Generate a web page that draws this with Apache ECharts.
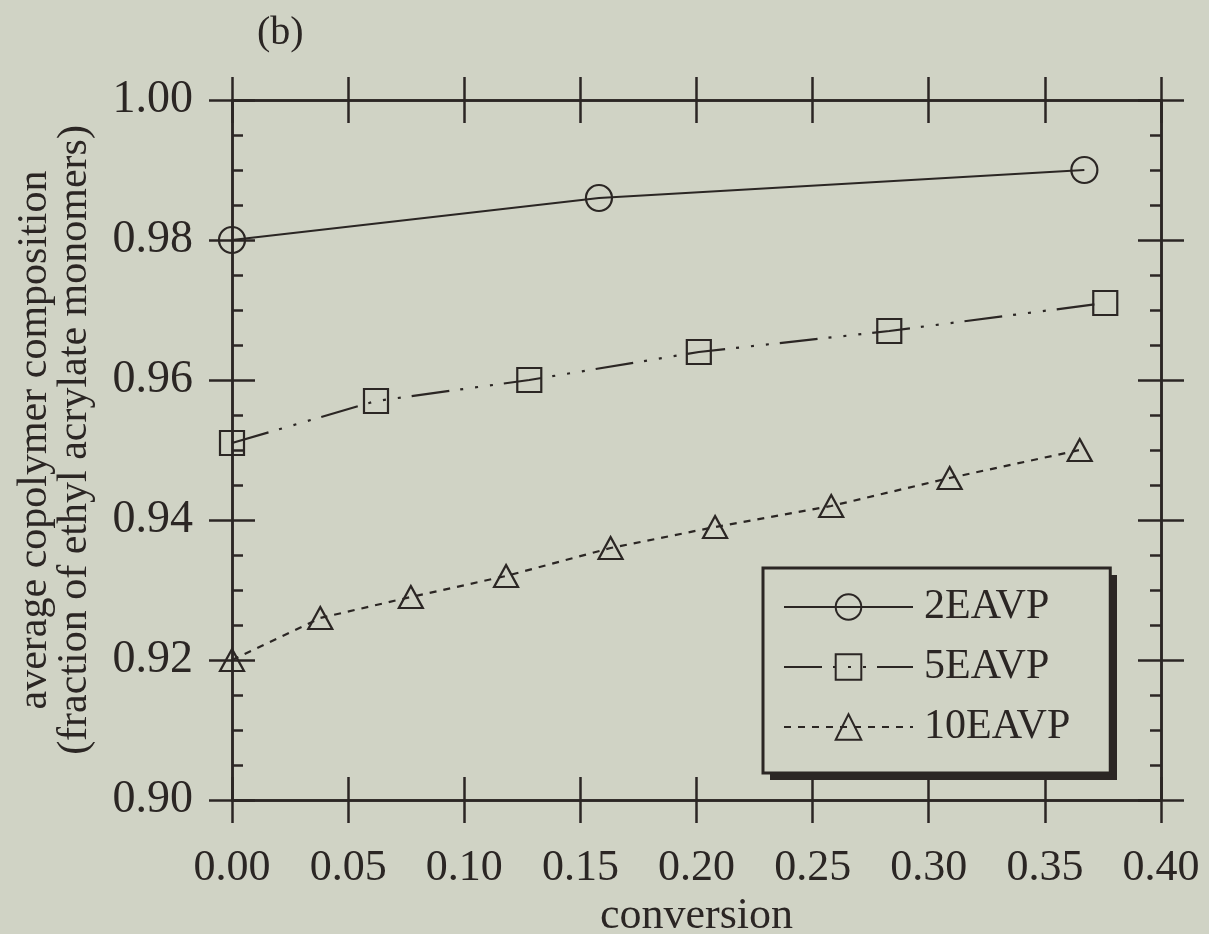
<!DOCTYPE html>
<html>
<head>
<meta charset="utf-8">
<style>
  html, body { margin: 0; padding: 0; background: #d0d3c5; }
  #chart { width: 1209px; height: 934px; }
</style>
<script src="https://cdn.jsdelivr.net/npm/echarts@6/dist/echarts.min.js"></script>
</head>
<body>
<div id="chart"></div>
<script>
// ---- data ----
const seriesNames = ['2EAVP', '5EAVP', '10EAVP'];
const conversion2 = [0.000, 0.158, 0.367];
const composition2 = [0.980, 0.986, 0.990];
const conversion5 = [0.000, 0.062, 0.128, 0.201, 0.283, 0.376];
const composition5 = [0.951, 0.957, 0.960, 0.964, 0.967, 0.971];
const conversion10 = [0.000, 0.038, 0.077, 0.118, 0.163, 0.208, 0.258, 0.309, 0.365];
const composition10 = [0.920, 0.926, 0.929, 0.932, 0.936, 0.939, 0.942, 0.946, 0.950];
const xTickLabels = ['0.00', '0.05', '0.10', '0.15', '0.20', '0.25', '0.30', '0.35', '0.40'];
const yTickLabels = ['0.90', '0.92', '0.94', '0.96', '0.98', '1.00'];

// ---- style ----
const ink = '#2b2624';
const bg = '#d0d3c5';
const serif = "'Liberation Serif', 'DejaVu Serif', serif";

function pairs(xs, ys) { return xs.map((x, i) => [x, ys[i]]); }

function xAxisDef(position, inside, withLabel) {
  return {
    type: 'value', min: 0, max: 0.4, interval: 0.05, position: position,
    axisLine: { show: true, onZero: false, lineStyle: { color: ink, width: 2.5 } },
    axisTick: { show: true, inside: inside, length: 23, lineStyle: { color: ink, width: 2.5 } },
    minorTick: { show: false },
    splitLine: { show: false },
    axisLabel: withLabel ? {
      show: true, margin: 46, fontFamily: serif, fontSize: 44, lineHeight: 44, color: ink,
      formatter: v => xTickLabels[Math.round(v / 0.05)]
    } : { show: false },
    name: withLabel ? 'conversion' : '',
    nameLocation: 'middle', nameGap: 92,
    nameTextStyle: { fontFamily: serif, fontSize: 44, lineHeight: 44, color: ink }
  };
}

function yAxisDef(position, inside, withLabel) {
  return {
    type: 'value', min: 0.9, max: 1.0, interval: 0.02, position: position,
    axisLine: { show: true, onZero: false, lineStyle: { color: ink, width: 2.5 } },
    axisTick: { show: true, inside: inside, length: 23, lineStyle: { color: ink, width: 2.5 } },
    minorTick: { show: inside, splitNumber: 4, length: 11, lineStyle: { color: ink, width: 2.5 } },
    splitLine: { show: false },
    axisLabel: withLabel ? {
      show: true, margin: 39, fontFamily: serif, fontSize: 46, color: ink,
      formatter: v => yTickLabels[Math.round((v - 0.9) / 0.02)]
    } : { show: false },
    name: withLabel ? 'average copolymer composition\n(fraction of ethyl acrylate monomers)' : '',
    nameLocation: 'middle', nameGap: 137,
    nameTextStyle: { fontFamily: serif, fontSize: 42, lineHeight: 40, color: ink, padding: [0, 0, 0, 20] }
  };
}

const chart = echarts.init(document.getElementById('chart'), null, { renderer: 'canvas' });
chart.setOption({
  backgroundColor: bg,
  animation: false,
  grid: { left: 232, right: 48, top: 100, bottom: 134, containLabel: false, outerBoundsMode: 'none' },
  title: {
    text: '(b)', left: 252, top: 8,
    textStyle: { fontFamily: serif, fontSize: 40, fontWeight: 'normal', color: ink }
  },
  graphic: [
    { type: 'rect', left: 770, top: 575, shape: { width: 347, height: 205 }, style: { fill: ink }, z: 1 }
  ],
  xAxis: [
    xAxisDef('bottom', false, true),
    xAxisDef('bottom', true, false),
    xAxisDef('top', false, false),
    xAxisDef('top', true, false)
  ],
  yAxis: [
    yAxisDef('left', false, true),
    yAxisDef('left', true, false),
    yAxisDef('right', false, false),
    yAxisDef('right', true, false)
  ],
  legend: {
    show: true, orient: 'vertical', left: 763, top: 568, z: 5,
    padding: [18, 40, 25, 20],
    itemWidth: 129, itemHeight: 32, itemGap: 18,
    backgroundColor: bg, borderColor: ink, borderWidth: 3,
    textStyle: { fontFamily: serif, fontSize: 42, lineHeight: 42, color: ink, padding: [0, 0, 0, 6] },
    data: seriesNames
  },
  series: [
    {
      name: seriesNames[0], type: 'line', data: pairs(conversion2, composition2),
      symbol: 'circle', symbolSize: 26,
      itemStyle: { color: 'rgba(0,0,0,0)', borderColor: ink, borderWidth: 2.2 },
      lineStyle: { color: ink, width: 2.2, type: 'solid' },
      emphasis: { disabled: true }, z: 3
    },
    {
      name: seriesNames[1], type: 'line', data: pairs(conversion5, composition5),
      symbol: 'rect', symbolSize: 24,
      itemStyle: { color: 'rgba(0,0,0,0)', borderColor: ink, borderWidth: 2.2 },
      lineStyle: { color: ink, width: 2.2, type: [38, 11, 3, 12, 3, 12, 3, 11] },
      emphasis: { disabled: true }, z: 3
    },
    {
      name: seriesNames[2], type: 'line', data: pairs(conversion10, composition10),
      symbol: 'triangle', symbolSize: [24, 22],
      itemStyle: { color: 'rgba(0,0,0,0)', borderColor: ink, borderWidth: 2.2 },
      lineStyle: { color: ink, width: 2.2, type: [7, 7] },
      emphasis: { disabled: true }, z: 3
    }
  ]
});
</script>
</body>
</html>
